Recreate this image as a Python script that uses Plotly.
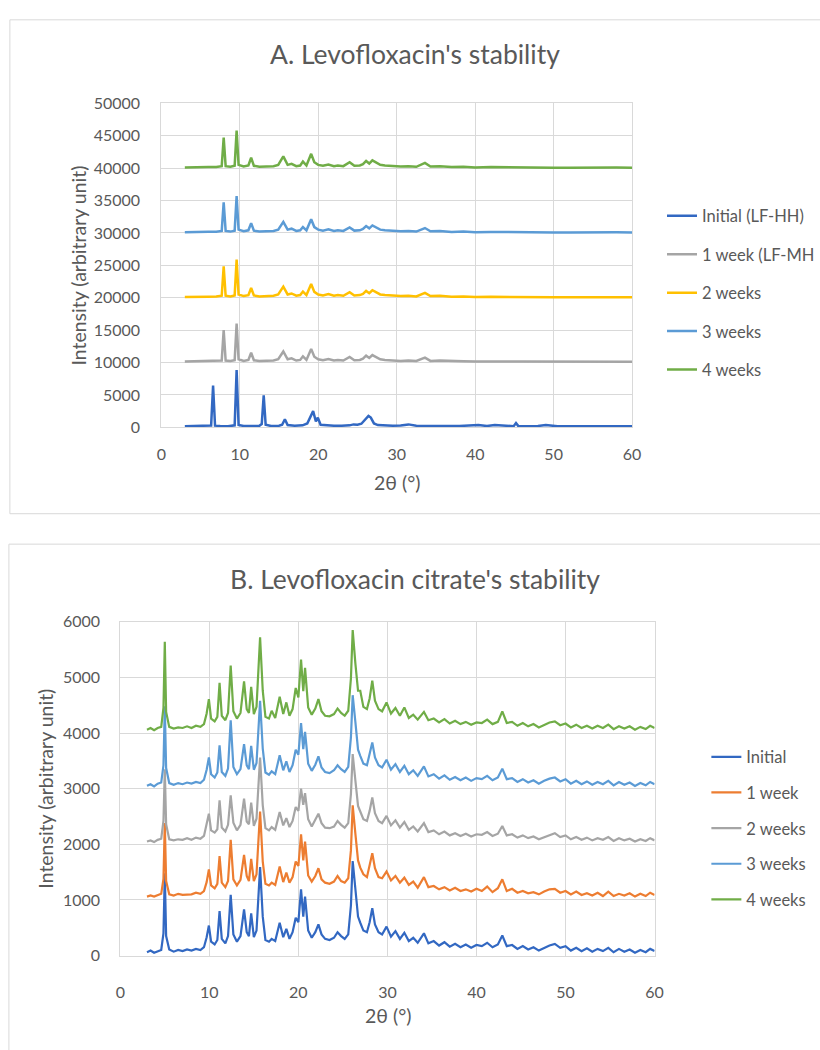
import plotly.graph_objects as go

# ---------------- Panel A: Levofloxacin (stacked XRD patterns) ----------------
a_initial_x = [3, 4, 5, 5.8, 6.35, 6.6, 6.85, 7.5, 8.5, 9.35,
               9.6, 9.85, 10.5, 11.5, 12.5, 12.8, 13.05, 13.3, 14, 15,
               15.4, 15.75, 16.1, 17, 18, 18.6, 19.0, 19.35, 19.7, 19.95,
               20.3, 21, 22, 23, 24, 24.5, 25, 25.5, 26.0, 26.4,
               26.7, 27.1, 27.6, 28.5, 29.5, 30.5, 31.5, 32.5, 34, 36,
               38, 40.4, 41.5, 42.5, 44.9, 45.2, 45.5, 48, 49, 50.5,
               52, 54, 56, 58, 60]
a_initial_y = [150, 170, 160, 180, 260, 6450, 250, 200, 180, 300,
               8850, 350, 220, 200, 230, 500, 4950, 400, 220, 250,
               400, 1250, 350, 250, 300, 600, 1500, 2500, 900, 1500,
               400, 300, 250, 250, 300, 450, 400, 550, 1200, 1750,
               1500, 600, 350, 250, 250, 280, 450, 250, 220, 200,
               220, 350, 200, 350, 180, 650, 180, 200, 350, 160,
               170, 150, 160, 150, 150]

a_week_x = [3, 4, 5, 6, 7, 7.7, 7.95, 8.2, 8.8, 9.35,
            9.6, 9.85, 10.5, 11.1, 11.45, 11.8, 12.5, 13.5, 14.3, 14.9,
            15.55, 16.1, 16.6, 17.2, 17.7, 18.05, 18.5, 19.1, 19.5, 20.0,
            20.6, 21.3, 22.0, 22.5, 23.2, 24.0, 24.6, 25.3, 25.7, 26.1,
            26.5, 26.9, 27.4, 27.9, 28.5, 29.5, 30.5, 31.5, 32.5, 33.6,
            34.3, 35.5, 37, 38.5, 40, 42, 44, 46, 48, 50,
            52, 54, 56, 58, 60]
a_week1_y = [10150, 10180, 10150, 10200, 10200, 10300, 15000, 10300, 10250, 10350,
             16000, 10500, 10250, 10400, 11500, 10350, 10250, 10250, 10300, 10500,
             11700, 10500, 10650, 10300, 10400, 10950, 10400, 12100, 10900, 10500,
             10350, 10550, 10300, 10400, 10300, 10850, 10350, 10400, 10600, 11050,
             10700, 11150, 10800, 10500, 10400, 10300, 10250, 10300, 10250, 10750,
             10250, 10300, 10200, 10200, 10150, 10200, 10150, 10150, 10150, 10120,
             10150, 10150, 10120, 10150, 10120]
a_week2_y = [20100, 20150, 20120, 20160, 20180, 20300, 24850, 20300, 20200, 20350,
             25900, 20500, 20250, 20400, 21500, 20350, 20200, 20250, 20300, 20500,
             21700, 20500, 20650, 20300, 20400, 20950, 20400, 22100, 20900, 20500,
             20350, 20550, 20300, 20400, 20300, 20850, 20350, 20400, 20600, 21050,
             20700, 21150, 20800, 20500, 20400, 20300, 20250, 20300, 20200, 20750,
             20250, 20300, 20150, 20200, 20100, 20150, 20100, 20080, 20100, 20060,
             20070, 20100, 20060, 20080, 20060]
a_week3_y = [30100, 30150, 30120, 30170, 30180, 30300, 34700, 30300, 30200, 30350,
             35700, 30500, 30250, 30400, 31500, 30350, 30200, 30250, 30300, 30500,
             31700, 30500, 30650, 30300, 30400, 30900, 30400, 32100, 30900, 30500,
             30350, 30550, 30300, 30400, 30300, 30850, 30350, 30400, 30600, 31050,
             30700, 31150, 30800, 30500, 30400, 30300, 30250, 30300, 30200, 30750,
             30250, 30300, 30150, 30200, 30100, 30150, 30100, 30080, 30100, 30060,
             30070, 30100, 30060, 30080, 30060]
a_week4_y = [40100, 40150, 40120, 40160, 40180, 40300, 44700, 40300, 40200, 40350,
             45800, 40500, 40250, 40400, 41600, 40350, 40200, 40250, 40300, 40500,
             41800, 40500, 40650, 40300, 40400, 41000, 40400, 42200, 40900, 40500,
             40350, 40550, 40300, 40400, 40300, 40900, 40350, 40400, 40600, 41100,
             40700, 41200, 40800, 40500, 40400, 40300, 40250, 40300, 40200, 40800,
             40250, 40300, 40150, 40200, 40100, 40150, 40100, 40080, 40100, 40060,
             40070, 40100, 40060, 40080, 40060]

a_names = ["Initial (LF-HH)", "1 week (LF-MH", "2 weeks", "3 weeks", "4 weeks"]
a_colors = ["#3268C2", "#A5A5A5", "#FFC000", "#5B9BD5", "#70AD47"]

# ---------------- Panel B: Levofloxacin citrate ----------------
b_x = [3.0, 3.4, 3.8, 4.2, 4.6, 4.85, 5.0, 5.15, 5.5, 6.0, 6.5, 7.0, 7.5, 8.0, 8.5, 9.0, 9.4,
       9.7, 9.95, 10.2, 10.6, 10.9, 11.15, 11.4, 11.8, 12.1, 12.4,
       12.7, 13.1, 13.5, 13.9, 14.2, 14.45, 14.7, 15.0, 15.3, 15.7,
       16.0, 16.3, 16.7, 17.0, 17.4, 17.9, 18.3, 18.65, 19.0, 19.35,
       19.7, 20.0, 20.3, 20.55, 20.75, 21.1, 21.5, 21.9, 22.25, 22.6,
       23.0, 23.5, 24.0, 24.4, 24.8, 25.2, 25.6, 25.9, 26.1, 26.4,
       26.7, 26.95, 27.3, 27.7, 28.0, 28.3, 28.6, 29.0, 29.4, 29.9,
       30.4, 30.9, 31.4, 31.9, 32.4, 32.9, 33.4, 34.1, 34.6, 35.2,
       35.8, 36.4, 37.0, 37.6, 38.2, 38.8, 39.4, 40.0, 40.6, 41.2,
       41.8, 42.4, 42.9, 43.4, 44.0, 44.6, 45.2, 45.8, 46.4, 47.0,
       47.6, 48.2, 48.8, 49.4, 50.0, 50.6, 51.2, 51.8, 52.4, 53.0,
       53.6, 54.2, 54.8, 55.4, 56.0, 56.6, 57.2, 57.8, 58.4, 59.0,
       59.5, 60.0]
b_initial = [60, 90, 50, 80, 100, 400, 1480, 350, 110, 70, 100, 80, 110, 90, 120, 100, 150,
             330, 540, 250, 200, 280, 800, 300, 220, 350, 1090,
             380, 250, 350, 830, 420, 350, 760, 330, 450, 1590,
             700, 280, 250, 300, 260, 590, 330, 480, 300, 420,
             680, 600, 1190, 700, 1060, 450, 320, 420, 560, 380,
             300, 280, 320, 420, 350, 300, 380, 900, 1700, 1200,
             700, 590, 450, 420, 600, 850, 560, 420, 380, 520,
             340, 440, 300, 410, 260, 320, 230, 400, 220, 260,
             180, 240, 160, 210, 150, 200, 140, 190, 170, 230,
             150, 200, 360, 170, 190, 120, 170, 110, 150, 90,
             140, 180, 210, 140, 170, 90, 140, 80, 130, 70,
             120, 80, 140, 60, 120, 70, 110, 50, 100, 60,
             120, 80]
b_week1 = [1060, 1080, 1060, 1090, 1110, 1380, 2380, 1340, 1100, 1080, 1110, 1090, 1100, 1100, 1130, 1110, 1160,
           1320, 1550, 1260, 1210, 1290, 1790, 1310, 1230, 1340, 2080,
           1370, 1260, 1360, 1810, 1430, 1340, 1740, 1340, 1460, 2590,
           1690, 1290, 1260, 1310, 1270, 1600, 1320, 1490, 1310, 1410,
           1690, 1610, 2180, 1710, 2050, 1440, 1330, 1430, 1570, 1370,
           1310, 1290, 1330, 1430, 1340, 1310, 1390, 1890, 2700, 2190,
           1710, 1580, 1460, 1410, 1610, 1840, 1570, 1410, 1390, 1510,
           1350, 1430, 1310, 1400, 1270, 1330, 1220, 1410, 1230, 1250,
           1190, 1230, 1170, 1220, 1160, 1190, 1150, 1200, 1160, 1240,
           1140, 1210, 1370, 1160, 1200, 1130, 1160, 1120, 1140, 1100,
           1150, 1190, 1200, 1130, 1160, 1100, 1150, 1090, 1120, 1080,
           1130, 1070, 1150, 1070, 1110, 1080, 1120, 1060, 1110, 1070,
           1130, 1090]
b_week2 = [2050, 2070, 2040, 2080, 2100, 2420, 3350, 2360, 2090, 2070, 2090, 2080, 2110, 2080, 2120, 2100, 2150,
           2340, 2550, 2250, 2210, 2270, 2790, 2300, 2230, 2350, 2880,
           2390, 2250, 2350, 2820, 2410, 2360, 2750, 2330, 2460, 3560,
           2700, 2290, 2250, 2310, 2260, 2580, 2340, 2470, 2310, 2420,
           2670, 2600, 3000, 2710, 2920, 2450, 2320, 2430, 2550, 2380,
           2300, 2290, 2320, 2420, 2350, 2300, 2380, 2900, 3620, 3150,
           2690, 2590, 2450, 2420, 2600, 2840, 2560, 2420, 2380, 2510,
           2340, 2430, 2300, 2400, 2260, 2320, 2230, 2380, 2220, 2250,
           2180, 2230, 2160, 2200, 2150, 2190, 2140, 2180, 2170, 2220,
           2150, 2190, 2330, 2160, 2180, 2120, 2160, 2110, 2140, 2090,
           2130, 2170, 2200, 2130, 2160, 2090, 2130, 2080, 2120, 2070,
           2110, 2080, 2130, 2060, 2110, 2070, 2100, 2050, 2090, 2060,
           2110, 2070]
b_week3 = [3050, 3080, 3040, 3090, 3110, 3420, 4480, 3370, 3100, 3070, 3100, 3080, 3110, 3090, 3120, 3100, 3160,
           3340, 3560, 3260, 3200, 3290, 3780, 3300, 3230, 3360, 4230,
           3390, 3260, 3350, 3800, 3420, 3350, 3770, 3340, 3460, 4580,
           3720, 3290, 3250, 3310, 3260, 3600, 3330, 3490, 3300, 3420,
           3700, 3610, 4180, 3710, 4020, 3450, 3320, 3430, 3580, 3380,
           3300, 3280, 3330, 3420, 3350, 3300, 3390, 3920, 4680, 4200,
           3700, 3590, 3450, 3420, 3600, 3830, 3560, 3420, 3380, 3520,
           3340, 3440, 3300, 3410, 3260, 3330, 3230, 3400, 3220, 3260,
           3180, 3240, 3160, 3210, 3150, 3200, 3140, 3190, 3170, 3230,
           3150, 3200, 3360, 3170, 3190, 3120, 3170, 3110, 3150, 3090,
           3140, 3180, 3200, 3130, 3170, 3090, 3140, 3080, 3130, 3070,
           3120, 3080, 3140, 3060, 3120, 3070, 3110, 3050, 3100, 3060,
           3120, 3080]
b_week4 = [4060, 4090, 4050, 4090, 4110, 4450, 5640, 4380, 4110, 4080, 4100, 4090, 4120, 4090, 4130, 4110, 4160,
           4350, 4610, 4260, 4210, 4290, 4900, 4310, 4230, 4360, 5210,
           4390, 4260, 4360, 4930, 4430, 4360, 4830, 4340, 4470, 5720,
           4760, 4290, 4260, 4400, 4270, 4650, 4340, 4550, 4310, 4430,
           4810, 4640, 5320, 4750, 5170, 4460, 4330, 4440, 4610, 4390,
           4310, 4300, 4340, 4440, 4360, 4310, 4400, 4980, 5850, 5250,
           4760, 4760, 4470, 4430, 4620, 4940, 4580, 4430, 4390, 4550,
           4350, 4450, 4310, 4460, 4270, 4330, 4240, 4380, 4230, 4260,
           4190, 4250, 4170, 4220, 4160, 4200, 4150, 4190, 4180, 4240,
           4160, 4200, 4390, 4180, 4200, 4130, 4180, 4120, 4160, 4100,
           4150, 4190, 4210, 4140, 4170, 4100, 4150, 4090, 4130, 4080,
           4130, 4090, 4150, 4070, 4120, 4080, 4120, 4060, 4110, 4070,
           4130, 4090]

b_names = ["Initial", "1 week", "2 weeks", "3 weeks", "4 weeks"]
b_colors = ["#3268C2", "#ED7D31", "#A5A5A5", "#5B9BD5", "#70AD47"]

W, H = 820, 1050
FONT = "Lato, 'Open Sans', sans-serif"
GREY_TEXT = "#595959"
GRID = "#D9D9D9"
TICK_SIZE = 16
AXIS_TITLE_SIZE = 19.5
CHART_TITLE_SIZE = 26.5


def px(x):
    return x / W


def py(y):
    return 1 - y / H


fig = go.Figure()

a_series = [(a_initial_x, a_initial_y), (a_week_x, a_week1_y), (a_week_x, a_week2_y),
            (a_week_x, a_week3_y), (a_week_x, a_week4_y)]
for i, ((xs, ys), name, color) in enumerate(zip(a_series, a_names, a_colors)):
    fig.add_trace(go.Scatter(x=xs, y=ys, mode="lines", name=name,
                             line=dict(color=color, width=2.5),
                             xaxis="x", yaxis="y", legend="legend",
                             legendgroup="a%d" % i))

b_series = [b_initial, b_week1, b_week2, b_week3, b_week4]
for i, (ys, name, color) in enumerate(zip(b_series, b_names, b_colors)):
    fig.add_trace(go.Scatter(x=b_x, y=ys, mode="lines", name=name,
                             line=dict(color=color, width=2.2),
                             xaxis="x2", yaxis="y2", legend="legend2",
                             legendgroup="b%d" % i))

axis_common = dict(showgrid=True, gridcolor=GRID, gridwidth=1, zeroline=False,
                   showline=True, linecolor=GRID, linewidth=1, mirror=True,
                   ticks="", tickformat="d",
                   tickfont=dict(family=FONT, size=TICK_SIZE, color=GREY_TEXT),
                   fixedrange=True)

legend_common = dict(xanchor="left", yanchor="top", bgcolor="rgba(0,0,0,0)",
                     traceorder="grouped",
                     font=dict(family=FONT, size=16.5, color=GREY_TEXT))

fig.update_layout(
    width=W, height=H,
    margin=dict(l=0, r=0, t=0, b=0),
    paper_bgcolor="white", plot_bgcolor="white",
    font=dict(family=FONT, color=GREY_TEXT),
    xaxis=dict(domain=[px(160), px(642)], range=[0, 60], dtick=10, anchor="y",
               ticklabelstandoff=12, **axis_common),
    yaxis=dict(domain=[py(425), py(95)], range=[0, 50000], dtick=5000, anchor="x",
               ticklabelstandoff=17, **axis_common),
    xaxis2=dict(domain=[px(118), px(665)], range=[0, 60], dtick=10, anchor="y2",
                ticklabelstandoff=22, **axis_common),
    yaxis2=dict(domain=[py(963), py(623)], range=[0, 6000], dtick=1000, anchor="x2",
                ticklabelstandoff=16, **axis_common),
    legend=dict(x=px(673), y=py(192), tracegroupgap=14, **legend_common),
    legend2=dict(x=px(718), y=py(743), tracegroupgap=11.2, **legend_common),
)

# chart-area frames around each panel
fig.add_shape(type="rect", xref="paper", yref="paper",
              x0=px(5), x1=px(840), y0=py(513), y1=py(10),
              line=dict(color=GRID, width=1), fillcolor="rgba(0,0,0,0)", layer="below")
fig.add_shape(type="rect", xref="paper", yref="paper",
              x0=px(4), x1=px(840), y0=py(1070), y1=py(544),
              line=dict(color=GRID, width=1), fillcolor="rgba(0,0,0,0)", layer="below")

texts = [
    ("A. Levofloxacin's stability", 420, 45, CHART_TITLE_SIZE, 0),
    ("B. Levofloxacin citrate's stability", 420, 579, CHART_TITLE_SIZE, 0),
    ("Intensity (arbitrary unit)", 75, 260, AXIS_TITLE_SIZE, -90),
    ("Intensity (arbitrary unit)", 42, 793, AXIS_TITLE_SIZE, -90),
    ("2θ (°)", 401, 481, AXIS_TITLE_SIZE, 0),
    ("2θ (°)", 392, 1024, AXIS_TITLE_SIZE, 0),
]
for text, x, y, size, angle in texts:
    fig.add_annotation(text=text, x=px(x), y=py(y), xref="paper", yref="paper",
                       xanchor="center", yanchor="middle", showarrow=False,
                       textangle=angle,
                       font=dict(family=FONT, size=size, color=GREY_TEXT))

fig.write_html("out.html")
